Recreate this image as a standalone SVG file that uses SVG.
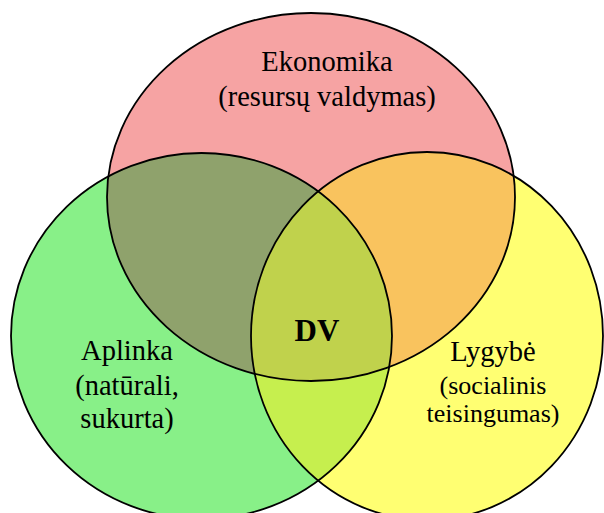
<svg xmlns="http://www.w3.org/2000/svg" width="604" height="513" viewBox="0 0 604 513">
  <style>
    .lbl { font-family: "Liberation Serif", "Times New Roman", serif; font-size: 28.5px; fill: #000; text-anchor: middle; }
    .sub { font-size: 26px; }
    .bold { font-weight: bold; font-size: 31px; }
    .outline { fill: none; stroke: #000; stroke-width: 1.8; }
  </style>
  <defs>
    <ellipse id="eRed" cx="311" cy="197" rx="204" ry="184"/>
    <ellipse id="eGreen" cx="201.5" cy="336" rx="190.5" ry="183"/>
    <ellipse id="eYellow" cx="427" cy="336" rx="176" ry="184"/>
    <clipPath id="cRed"><use href="#eRed"/></clipPath>
    <clipPath id="cGreen"><use href="#eGreen"/></clipPath>
    <clipPath id="cYellow"><use href="#eYellow"/></clipPath>
  </defs>
  <rect width="604" height="513" fill="#fff"/>

  <g id="node-aplinka">
    <use href="#eGreen" fill="#88f088"/>
    <text class="lbl" x="127" y="360">Aplinka</text>
    <text class="lbl" x="127" y="395">(natūrali,</text>
    <text class="lbl" x="127" y="428">sukurta)</text>
  </g>

  <g id="node-lygybe">
    <use href="#eYellow" fill="#ffff72"/>
    <text class="lbl" x="493" y="361">Lygybė</text>
    <text class="lbl sub" x="493" y="394">(socialinis</text>
    <text class="lbl sub" x="493" y="422">teisingumas)</text>
  </g>

  <g id="node-ekonomika">
    <use href="#eRed" fill="#f6a3a3" clip-path="none"/>
    <text class="lbl" x="327" y="71">Ekonomika</text>
    <text class="lbl" x="327" y="106">(resursų valdymas)</text>
  </g>

  <g id="overlaps">
    <g clip-path="url(#cRed)"><use href="#eGreen" fill="#8fa26c"/></g>
    <g clip-path="url(#cRed)"><use href="#eYellow" fill="#f9c35e"/></g>
    <g clip-path="url(#cGreen)"><use href="#eYellow" fill="#c6ef4e"/></g>
    <g clip-path="url(#cRed)"><g clip-path="url(#cGreen)"><use href="#eYellow" fill="#c0d24c"/></g></g>
  </g>

  <g id="outlines">
    <use href="#eRed" class="outline"/>
    <use href="#eGreen" class="outline"/>
    <use href="#eYellow" class="outline"/>
  </g>

  <g id="node-dv">
    <text class="lbl bold" x="317" y="341">DV</text>
  </g>
</svg>
